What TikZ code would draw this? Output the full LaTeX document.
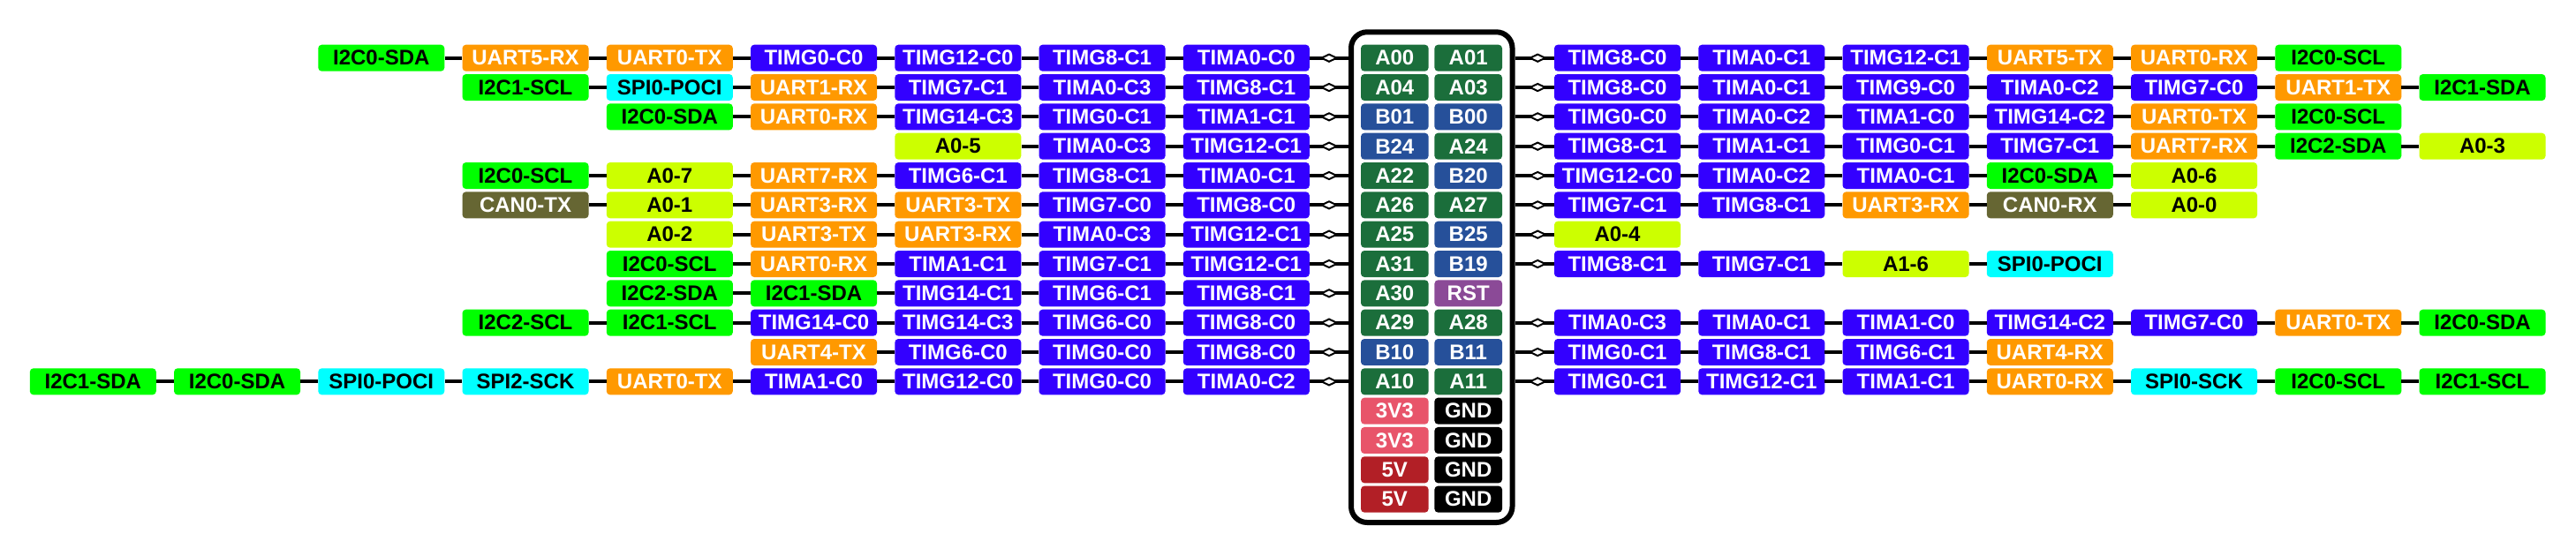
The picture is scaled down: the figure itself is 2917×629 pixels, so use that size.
\documentclass[tikz,border=0pt]{standalone}
\usepackage{fontspec}
\setmainfont{Liberation Sans}
\usetikzlibrary{shapes.geometric}

\definecolor{timblue}{HTML}{3300FF}
\definecolor{uartorange}{HTML}{FF9900}
\definecolor{itcgreen}{HTML}{00FF00}
\definecolor{spicyan}{HTML}{00FFFF}
\definecolor{adcyellow}{HTML}{CCFF00}
\definecolor{canolive}{HTML}{666633}
\definecolor{pingreen}{HTML}{1B6E3B}
\definecolor{pinblue}{HTML}{26509A}
\definecolor{rstpurple}{HTML}{8B4A97}
\definecolor{pwrpink}{HTML}{E8546A}
\definecolor{pwrred}{HTML}{B21F26}

\tikzset{
  fn/.style={rectangle, rounded corners=4pt, minimum width=143pt, minimum height=30pt, inner sep=0pt},
  tim/.style={fn, fill=timblue, text=white},
  uart/.style={fn, fill=uartorange, text=white},
  itc/.style={fn, fill=itcgreen, text=black},
  spi/.style={fn, fill=spicyan, text=black},
  adc/.style={fn, fill=adcyellow, text=black},
  can/.style={fn, fill=canolive, text=white},
  pinbox/.style={rectangle, rounded corners=4pt, minimum width=76.6pt, minimum height=30pt, inner sep=0pt, text=white},
  pa/.style={pinbox, fill=pingreen},
  pb/.style={pinbox, fill=pinblue},
  prst/.style={pinbox, fill=rstpurple},
  pthree/.style={pinbox, fill=pwrpink},
  pfive/.style={pinbox, fill=pwrred},
  pgnd/.style={pinbox, fill=black},
  wire/.style={line width=4pt},
  dmd/.style={diamond, draw, fill=white, line width=2pt, minimum width=18pt, minimum height=9pt, inner sep=0pt}
}

\begin{document}
\begin{tikzpicture}[x=1pt, y=-1pt, every node/.style={font=\bfseries\fontsize{24}{24}\selectfont}]
\useasboundingbox (0,0) rectangle (2917,629);

% board outline
\draw[line width=6pt, rounded corners=18pt] (1530,36.3) rectangle (1712.5,592);

% header pins
\foreach \r/\sa/\ta/\sb/\tb in {1/pa/A00/pa/A01, 2/pa/A04/pa/A03, 3/pb/B01/pb/B00, 4/pb/B24/pa/A24,
  5/pa/A22/pb/B20, 6/pa/A26/pa/A27, 7/pa/A25/pb/B25, 8/pa/A31/pb/B19, 9/pa/A30/prst/RST,
  10/pa/A29/pa/A28, 11/pb/B10/pb/B11, 12/pa/A10/pa/A11, 13/pthree/3V3/pgnd/GND,
  14/pthree/3V3/pgnd/GND, 15/pfive/5V/pgnd/GND, 16/pfive/5V/pgnd/GND}{
  \pgfmathsetmacro\y{65.7+(\r-1)*33.33}
  \node[\sa] (P\r a) at (1579.3,\y) {\ta};
  \node[\sb] (P\r b) at (1662.7,\y) {\tb};
  \coordinate (EL\r) at (1527,\y);
  \coordinate (ER\r) at (1715.5,\y);
}

% left side functions
\foreach \r/\lst in {
  1/{tim/TIMA0-C0, tim/TIMG8-C1, tim/TIMG12-C0, tim/TIMG0-C0, uart/UART0-TX, uart/UART5-RX, itc/I2C0-SDA},
  2/{tim/TIMG8-C1, tim/TIMA0-C3, tim/TIMG7-C1, uart/UART1-RX, spi/SPI0-POCI, itc/I2C1-SCL},
  3/{tim/TIMA1-C1, tim/TIMG0-C1, tim/TIMG14-C3, uart/UART0-RX, itc/I2C0-SDA},
  4/{tim/TIMG12-C1, tim/TIMA0-C3, adc/A0-5},
  5/{tim/TIMA0-C1, tim/TIMG8-C1, tim/TIMG6-C1, uart/UART7-RX, adc/A0-7, itc/I2C0-SCL},
  6/{tim/TIMG8-C0, tim/TIMG7-C0, uart/UART3-TX, uart/UART3-RX, adc/A0-1, can/CAN0-TX},
  7/{tim/TIMG12-C1, tim/TIMA0-C3, uart/UART3-RX, uart/UART3-TX, adc/A0-2},
  8/{tim/TIMG12-C1, tim/TIMG7-C1, tim/TIMA1-C1, uart/UART0-RX, itc/I2C0-SCL},
  9/{tim/TIMG8-C1, tim/TIMG6-C1, tim/TIMG14-C1, itc/I2C1-SDA, itc/I2C2-SDA},
  10/{tim/TIMG8-C0, tim/TIMG6-C0, tim/TIMG14-C3, tim/TIMG14-C0, itc/I2C1-SCL, itc/I2C2-SCL},
  11/{tim/TIMG8-C0, tim/TIMG0-C0, tim/TIMG6-C0, uart/UART4-TX},
  12/{tim/TIMA0-C2, tim/TIMG0-C0, tim/TIMG12-C0, tim/TIMA1-C0, uart/UART0-TX, spi/SPI2-SCK, spi/SPI0-POCI, itc/I2C0-SDA, itc/I2C1-SDA}}{
  \pgfmathsetmacro\y{65.7+(\r-1)*33.33}
  \foreach \s/\t [count=\k] in \lst {
    \node[\s] (L\r-\k) at ({1411.3-(\k-1)*163.25},\y) {\t};
    \ifnum\k=1
      \draw[wire] (EL\r) -- node[dmd]{} (L\r-1);
    \else
      \pgfmathtruncatemacro\j{\k-1}
      \draw[wire] (L\r-\j) -- (L\r-\k);
    \fi
  }
}

% right side functions
\foreach \r/\lst in {
  1/{tim/TIMG8-C0, tim/TIMA0-C1, tim/TIMG12-C1, uart/UART5-TX, uart/UART0-RX, itc/I2C0-SCL},
  2/{tim/TIMG8-C0, tim/TIMA0-C1, tim/TIMG9-C0, tim/TIMA0-C2, tim/TIMG7-C0, uart/UART1-TX, itc/I2C1-SDA},
  3/{tim/TIMG0-C0, tim/TIMA0-C2, tim/TIMA1-C0, tim/TIMG14-C2, uart/UART0-TX, itc/I2C0-SCL},
  4/{tim/TIMG8-C1, tim/TIMA1-C1, tim/TIMG0-C1, tim/TIMG7-C1, uart/UART7-RX, itc/I2C2-SDA, adc/A0-3},
  5/{tim/TIMG12-C0, tim/TIMA0-C2, tim/TIMA0-C1, itc/I2C0-SDA, adc/A0-6},
  6/{tim/TIMG7-C1, tim/TIMG8-C1, uart/UART3-RX, can/CAN0-RX, adc/A0-0},
  7/{adc/A0-4},
  8/{tim/TIMG8-C1, tim/TIMG7-C1, adc/A1-6, spi/SPI0-POCI},
  10/{tim/TIMA0-C3, tim/TIMA0-C1, tim/TIMA1-C0, tim/TIMG14-C2, tim/TIMG7-C0, uart/UART0-TX, itc/I2C0-SDA},
  11/{tim/TIMG0-C1, tim/TIMG8-C1, tim/TIMG6-C1, uart/UART4-RX},
  12/{tim/TIMG0-C1, tim/TIMG12-C1, tim/TIMA1-C1, uart/UART0-RX, spi/SPI0-SCK, itc/I2C0-SCL, itc/I2C1-SCL}}{
  \pgfmathsetmacro\y{65.7+(\r-1)*33.33}
  \foreach \s/\t [count=\k] in \lst {
    \node[\s] (R\r-\k) at ({1831.5+(\k-1)*163.25},\y) {\t};
    \ifnum\k=1
      \draw[wire] (ER\r) -- node[dmd, pos=0.58]{} (R\r-1);
    \else
      \pgfmathtruncatemacro\j{\k-1}
      \draw[wire] (R\r-\j) -- (R\r-\k);
    \fi
  }
}
\end{tikzpicture}
\end{document}
